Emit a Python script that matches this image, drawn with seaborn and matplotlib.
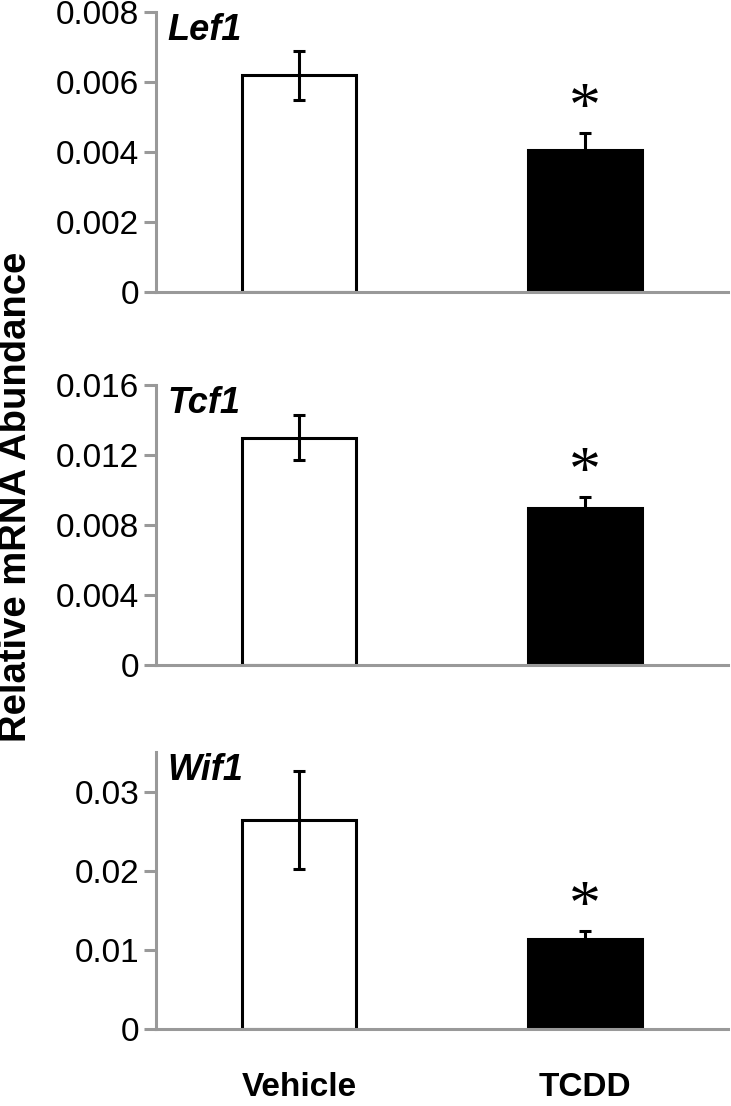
import numpy as np
import pandas as pd
import matplotlib
matplotlib.use("Agg")
import matplotlib.pyplot as plt
import seaborn as sns

# ---- data ----
groups = ["Vehicle", "TCDD"]
genes = ["Lef1", "Tcf1", "Wif1"]

lef1_mean = [0.0062, 0.00405]
lef1_err = [0.0007, 0.0005]
tcf1_mean = [0.0130, 0.0090]
tcf1_err = [0.0013, 0.0006]
wif1_mean = [0.0264, 0.0114]
wif1_err = [0.0062, 0.0010]

y_max = [0.008, 0.016, 0.035]
y_ticks = [
    [0, 0.002, 0.004, 0.006, 0.008],
    [0, 0.004, 0.008, 0.012, 0.016],
    [0, 0.01, 0.02, 0.03],
]
significant = [False, True]

means = [lef1_mean, tcf1_mean, wif1_mean]
errs = [lef1_err, tcf1_err, wif1_err]

sns.set_style("white")
plt.rcParams["font.family"] = ["Liberation Sans", "DejaVu Sans"]
plt.rcParams["text.color"] = "black"
plt.rcParams["xtick.labelcolor"] = "black"
plt.rcParams["ytick.labelcolor"] = "black"

SPINE = "#999999"

fig = plt.figure(figsize=(7.31, 11.06), dpi=100)
W, H = 731, 1106
left, right = 156 / W, 728 / W
panels_px = [(12, 292), (385, 665), (752, 1029)]

for i, (top_px, bot_px) in enumerate(panels_px):
    ax = fig.add_axes([left, 1 - bot_px / H, right - left, (bot_px - top_px) / H])
    df = pd.DataFrame({"group": groups, "value": means[i]})
    sns.barplot(data=df, x="group", y="value", hue="group", palette=["white", "black"],
                edgecolor="black", linewidth=2.2, width=0.4, legend=False, ax=ax,
                errorbar=None, zorder=2)
    ax.errorbar(range(len(groups)), means[i], yerr=errs[i], fmt="none",
                ecolor="black", elinewidth=2.2, capsize=4, capthick=2.2, zorder=3)

    for j, sig in enumerate(significant):
        if sig:
            ax.annotate("*", xy=(j, means[i][j] + errs[i][j]), xytext=(0, 16),
                        textcoords="offset points", ha="center", va="center",
                        fontsize=46, family="Liberation Serif", color="black")

    ax.set_xlim(-0.5, 1.5)
    ax.set_ylim(0, y_max[i])
    ax.set_yticks(y_ticks[i])
    ax.set_yticklabels([f"{v:g}" for v in y_ticks[i]])
    ax.tick_params(axis="y", direction="out", length=9, width=2.2, color=SPINE,
                   labelsize=24, pad=3, left=True, labelcolor="black")
    for s in ["top", "right"]:
        ax.spines[s].set_visible(False)
    for s in ["left", "bottom"]:
        ax.spines[s].set_color(SPINE)
        ax.spines[s].set_linewidth(2.2)
    ax.set_xlabel("")
    ax.set_ylabel("")
    ax.text(0.02, 0.995, genes[i], transform=ax.transAxes, ha="left", va="top",
            fontsize=26, fontweight="bold", fontstyle="italic", color="black")
    if i < 2:
        ax.set_xticks([])
    else:
        ax.tick_params(axis="x", length=0, labelsize=24, pad=31, labelcolor="black")
        for lab in ax.get_xticklabels():
            lab.set_fontweight("bold")

fig.text(0.022, 1 - 497 / H, "Relative mRNA Abundance", rotation=90, ha="center",
         va="center", fontsize=27.5, fontweight="bold", color="black")

fig.savefig("out.png", dpi=100)
